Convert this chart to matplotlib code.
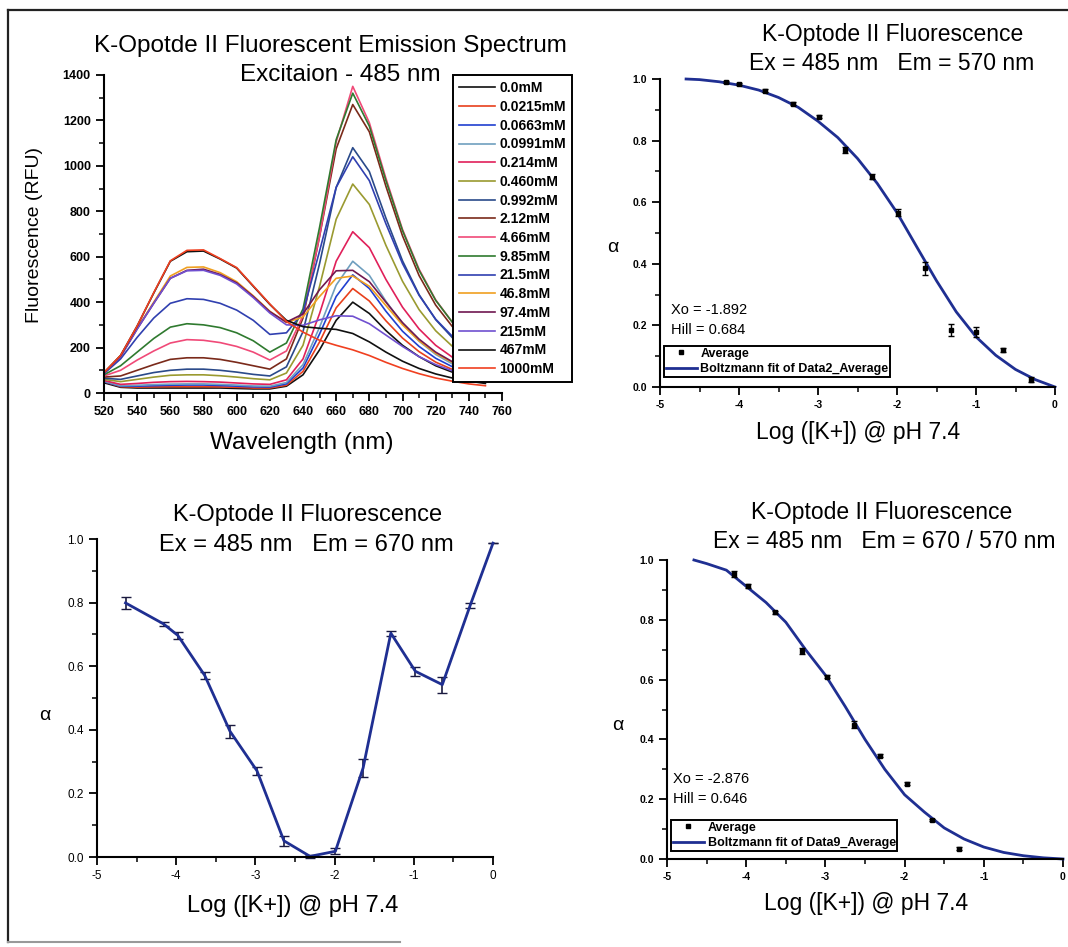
import matplotlib
matplotlib.use("Agg")
import matplotlib.pyplot as plt
from matplotlib.ticker import MultipleLocator
from matplotlib.lines import Line2D

plt.rcParams['font.family'] = ['Liberation Sans', 'DejaVu Sans']

# ---------------- data ----------------
# emission spectra, fluorescence (RFU) every 10 nm from 520 to 750
wavelength = [520, 530, 540, 550, 560, 570, 580, 590, 600, 610, 620, 630,
              640, 650, 660, 670, 680, 690, 700, 710, 720, 730, 740, 750]
f_0mM = [45, 25, 22, 22, 22, 22, 22, 22, 20, 18, 18, 30, 80, 190, 320, 400, 350, 275, 210, 160, 120, 92, 72, 56]
f_00215mM = [50, 28, 26, 27, 28, 28, 28, 27, 25, 22, 22, 34, 95, 225, 375, 460, 405, 318, 242, 182, 136, 104, 80, 62]
f_00663mM = [50, 30, 30, 32, 34, 35, 35, 33, 30, 27, 26, 40, 110, 260, 425, 520, 460, 360, 272, 205, 153, 116, 90, 70]
f_00991mM = [52, 32, 34, 37, 39, 40, 40, 38, 35, 31, 30, 46, 125, 290, 475, 580, 518, 404, 305, 228, 170, 128, 99, 77]
f_0214mM = [55, 38, 42, 47, 50, 51, 50, 48, 44, 40, 38, 58, 150, 350, 580, 710, 640, 500, 378, 282, 210, 158, 122, 95]
f_0460mM = [60, 50, 60, 70, 78, 80, 80, 76, 70, 63, 58, 88, 210, 470, 765, 920, 830, 650, 492, 367, 274, 206, 159, 123]
f_0992mM = [65, 60, 75, 90, 100, 105, 105, 100, 92, 82, 75, 115, 270, 570, 905, 1080, 975, 770, 582, 433, 323, 244, 188, 146]
f_212mM = [70, 75, 100, 125, 148, 155, 155, 148, 135, 120, 105, 150, 330, 690, 1075, 1270, 1150, 910, 692, 517, 387, 293, 227, 176]
f_466mM = [75, 100, 145, 185, 220, 235, 232, 222, 205, 180, 145, 185, 340, 690, 1105, 1350, 1190, 945, 720, 545, 410, 312, 245, 190]
f_985mM = [80, 120, 180, 240, 290, 305, 300, 288, 265, 230, 180, 220, 370, 730, 1115, 1320, 1175, 935, 715, 540, 408, 312, 244, 190]
f_215mM_a = [85, 150, 245, 330, 395, 415, 412, 395, 365, 320, 258, 265, 355, 625, 905, 1040, 935, 745, 570, 430, 325, 250, 196, 153]
f_468mM = [88, 165, 285, 400, 515, 553, 555, 530, 490, 428, 360, 310, 335, 425, 505, 515, 470, 385, 300, 230, 175, 135, 105, 82]
f_974mM = [88, 160, 282, 395, 505, 540, 545, 522, 485, 425, 358, 312, 348, 455, 538, 540, 490, 400, 310, 237, 180, 138, 108, 84]
f_215mM = [88, 160, 282, 395, 505, 538, 540, 518, 480, 420, 352, 300, 298, 322, 340, 338, 305, 255, 205, 160, 125, 98, 78, 62]
f_467mM = [90, 165, 295, 440, 580, 622, 625, 590, 550, 470, 390, 320, 292, 285, 280, 262, 225, 180, 140, 108, 84, 66, 52, 42]
f_1000mM = [90, 165, 295, 442, 582, 628, 630, 592, 552, 472, 392, 315, 268, 232, 210, 190, 165, 135, 108, 85, 66, 52, 40, 32]

spectra = [f_0mM, f_00215mM, f_00663mM, f_00991mM, f_0214mM, f_0460mM, f_0992mM, f_212mM,
           f_466mM, f_985mM, f_215mM_a, f_468mM, f_974mM, f_215mM, f_467mM, f_1000mM]
spec_labels = ['0.0mM', '0.0215mM', '0.0663mM', '0.0991mM', '0.214mM', '0.460mM', '0.992mM', '2.12mM',
               '4.66mM', '9.85mM', '21.5mM', '46.8mM', '97.4mM', '215mM', '467mM', '1000mM']
spec_colors = ['#111111', '#e8401c', '#2040d0', '#6f9fbf', '#e0205a', '#9a9a30', '#2a4a8a', '#7a2a1a',
               '#f04a78', '#2f7a2f', '#3040b0', '#f0a020', '#701850', '#7050d0', '#101010', '#f04020']

# Em = 570 nm (top right)
x570 = [-4.17, -4.00, -3.67, -3.32, -2.99, -2.66, -2.32, -1.99, -1.65, -1.32, -1.00, -0.66, -0.31]
a570 = [0.990, 0.983, 0.962, 0.920, 0.878, 0.769, 0.683, 0.566, 0.385, 0.184, 0.179, 0.121, 0.024]
e570 = [0.004, 0.004, 0.004, 0.004, 0.004, 0.010, 0.008, 0.012, 0.022, 0.020, 0.017, 0.007, 0.008]
fit570_x = [-4.67, -4.5, -4.25, -4.0, -3.75, -3.5, -3.25, -3.0, -2.75, -2.5,
            -2.25, -2.0, -1.75, -1.5, -1.25, -1.0, -0.75, -0.5, -0.25, 0.0]
fit570_y = [1.000, 0.998, 0.991, 0.980, 0.964, 0.940, 0.908, 0.863, 0.810, 0.742,
            0.661, 0.566, 0.455, 0.345, 0.244, 0.163, 0.103, 0.057, 0.024, 0.0]

# Em = 670 nm (bottom left)
x670 = [-4.64, -4.16, -3.98, -3.64, -3.32, -2.98, -2.64, -2.31, -1.99, -1.64, -1.29, -0.98, -0.64, -0.29, 0.0]
a670 = [0.799, 0.733, 0.697, 0.571, 0.395, 0.271, 0.051, 0.002, 0.018, 0.280, 0.704, 0.584, 0.542, 0.790, 0.987]
e670 = [0.020, 0.007, 0.010, 0.010, 0.020, 0.012, 0.015, 0.005, 0.010, 0.028, 0.008, 0.015, 0.025, 0.008, 0.0]

# Em = 670 / 570 nm (bottom right)
xratio = [-4.15, -3.98, -3.64, -3.29, -2.98, -2.64, -2.31, -1.97, -1.65, -1.31]
aratio = [0.952, 0.913, 0.826, 0.697, 0.610, 0.449, 0.346, 0.252, 0.131, 0.035]
eratio = [0.010, 0.006, 0.005, 0.010, 0.006, 0.012, 0.004, 0.004, 0.004, 0.004]
fitratio_x = [-4.66, -4.5, -4.25, -4.0, -3.75, -3.5, -3.25, -3.0, -2.75, -2.5,
              -2.25, -2.0, -1.75, -1.5, -1.25, -1.0, -0.75, -0.5, -0.25, 0.0]
fitratio_y = [1.000, 0.988, 0.966, 0.912, 0.858, 0.792, 0.700, 0.615, 0.510, 0.400,
              0.300, 0.215, 0.157, 0.104, 0.067, 0.040, 0.022, 0.011, 0.004, 0.0]

W, H = 1068, 947
NAVY = '#1f2f92'


def rect(l, t, r, b):
    # pixel box -> figure fraction
    return [l / W, 1 - b / H, (r - l) / W, (b - t) / H]


def ftext(x, y, s, **kw):
    fig.text(x / W, 1 - y / H, s, **kw)


def style_axes(ax, size, weight='bold'):
    for s in ['top', 'right']:
        ax.spines[s].set_visible(False)
    for s in ['left', 'bottom']:
        ax.spines[s].set_linewidth(1.5)
    ax.tick_params(which='major', direction='out', length=6, width=1.3,
                   labelsize=size)
    ax.tick_params(which='minor', direction='out', length=3.5, width=1.1)
    for lab in ax.get_xticklabels() + ax.get_yticklabels():
        lab.set_fontweight(weight)


def alpha_axes(ax):
    ax.set_xlim(-5, 0)
    ax.set_ylim(0, 1)
    ax.xaxis.set_major_locator(MultipleLocator(1))
    ax.xaxis.set_minor_locator(MultipleLocator(0.5))
    ax.yaxis.set_major_locator(MultipleLocator(0.2))
    ax.yaxis.set_minor_locator(MultipleLocator(0.1))
    ax.yaxis.set_major_formatter(plt.FormatStrFormatter('%.1f'))
    ax.xaxis.set_major_formatter(plt.FormatStrFormatter('%d'))


def fit_legend(ax, fit_label, x, y):
    hs = [Line2D([], [], marker='s', ms=3, ls='none', color='black'),
          Line2D([], [], color=NAVY, lw=2)]
    leg = ax.legend(hs, ['Average', fit_label], loc='upper left',
                    bbox_to_anchor=(x / W, 1 - y / H), bbox_transform=fig.transFigure,
                    frameon=True, fancybox=False, edgecolor='black', framealpha=1,
                    borderpad=0.12, labelspacing=0.3, handlelength=2.5,
                    handletextpad=0.3, borderaxespad=0,
                    prop={'weight': 'bold', 'size': 9})
    leg.get_frame().set_linewidth(1.4)


fig = plt.figure(figsize=(W / 100, H / 100), dpi=100)

# outer frame of the scanned page
fig.add_artist(Line2D([8 / W, 8 / W], [1 - 942 / H, 1 - 10 / H], color='#222222', lw=1.6))
fig.add_artist(Line2D([8 / W, 1.0], [1 - 10 / H, 1 - 10 / H], color='#222222', lw=1.6))
fig.add_artist(Line2D([8 / W, 400 / W], [1 - 942 / H, 1 - 942 / H], color='#999999', lw=1.5))

# ---------- top left: spectra ----------
ax1 = fig.add_axes(rect(104, 75, 502, 393))
handles = []
for ys, lab, c in zip(spectra, spec_labels, spec_colors):
    h, = ax1.plot(wavelength, ys, color=c, lw=1.2, label=lab)
    handles.append(h)
ax1.set_xlim(520, 760)
ax1.set_ylim(0, 1400)
ax1.xaxis.set_major_locator(MultipleLocator(20))
ax1.xaxis.set_minor_locator(MultipleLocator(10))
ax1.yaxis.set_major_locator(MultipleLocator(200))
ax1.yaxis.set_minor_locator(MultipleLocator(100))
style_axes(ax1, 9)
leg1 = ax1.legend(handles=handles, loc='upper left', bbox_to_anchor=(453 / W, 1 - 75 / H),
                  bbox_transform=fig.transFigure, frameon=True, fancybox=False,
                  edgecolor='black', framealpha=1, borderpad=0.45, labelspacing=0.34,
                  handlelength=2.6, handletextpad=0.3, borderaxespad=0,
                  prop={'weight': 'bold', 'size': 10})
leg1.get_frame().set_linewidth(1.4)
ftext(330, 46, 'K-Opotde II Fluorescent Emission Spectrum', ha='center', va='center', fontsize=17.5)
ftext(340, 75, 'Excitaion - 485 nm', ha='center', va='center', fontsize=17.5)
ftext(35, 235, 'Fluorescence (RFU)', ha='center', va='center', rotation=90, fontsize=14)
ftext(302, 443, 'Wavelength (nm)', ha='center', va='center', fontsize=17.5)

# ---------- top right: Em 570 ----------
ax2 = fig.add_axes(rect(660, 79, 1055, 387))
ax2.plot(fit570_x, fit570_y, color=NAVY, lw=2, clip_on=False, zorder=2)
ax2.errorbar(x570, a570, yerr=e570, fmt='s', ms=3, color='black', ecolor='black',
             elinewidth=1, capsize=2.5, zorder=3)
alpha_axes(ax2)
style_axes(ax2, 7.5)
fit_legend(ax2, 'Boltzmann fit of Data2_Average', 664, 346)
ftext(893, 35, 'K-Optode II Fluorescence', ha='center', va='center', fontsize=16.5)
ftext(892, 63, 'Ex = 485 nm   Em = 570 nm', ha='center', va='center', fontsize=16.5)
ftext(613, 248, 'α', ha='center', va='center', fontsize=14)
ftext(858, 432, 'Log ([K+]) @ pH 7.4', ha='center', va='center', fontsize=16.5)
ftext(671, 310, 'Xo = -1.892', ha='left', va='center', fontsize=10.5)
ftext(671, 330, 'Hill = 0.684', ha='left', va='center', fontsize=10.5)

# ---------- bottom left: Em 670 ----------
ax3 = fig.add_axes(rect(97, 539, 493, 857))
ax3.errorbar(x670, a670, yerr=e670, fmt='-', color=NAVY, ecolor='#1a1a40', lw=2,
             elinewidth=1.2, capsize=3.5, clip_on=False)
alpha_axes(ax3)
style_axes(ax3, 8.5, weight='normal')
ftext(308, 515, 'K-Optode II Fluorescence', ha='center', va='center', fontsize=17)
ftext(306, 545, 'Ex = 485 nm   Em = 670 nm', ha='center', va='center', fontsize=17)
ftext(45, 715, 'α', ha='center', va='center', fontsize=14)
ftext(293, 906, 'Log ([K+]) @ pH 7.4', ha='center', va='center', fontsize=17)

# ---------- bottom right: Em 670/570 ----------
ax4 = fig.add_axes(rect(667, 560, 1063, 859))
ax4.plot(fitratio_x, fitratio_y, color=NAVY, lw=2, clip_on=False, zorder=2)
ax4.errorbar(xratio, aratio, yerr=eratio, fmt='s', ms=3, color='black', ecolor='black',
             elinewidth=1, capsize=2.5, zorder=3)
alpha_axes(ax4)
style_axes(ax4, 7.5)
fit_legend(ax4, 'Boltzmann fit of Data9_Average', 671, 820)
ftext(882, 513, 'K-Optode II Fluorescence', ha='center', va='center', fontsize=16.5)
ftext(884, 541, 'Ex = 485 nm   Em = 670 / 570 nm', ha='center', va='center', fontsize=16.5)
ftext(618, 725, 'α', ha='center', va='center', fontsize=14)
ftext(866, 903, 'Log ([K+]) @ pH 7.4', ha='center', va='center', fontsize=16.5)
ftext(673, 779, 'Xo = -2.876', ha='left', va='center', fontsize=10.5)
ftext(673, 799, 'Hill = 0.646', ha='left', va='center', fontsize=10.5)

fig.savefig('out.png', dpi=100)
